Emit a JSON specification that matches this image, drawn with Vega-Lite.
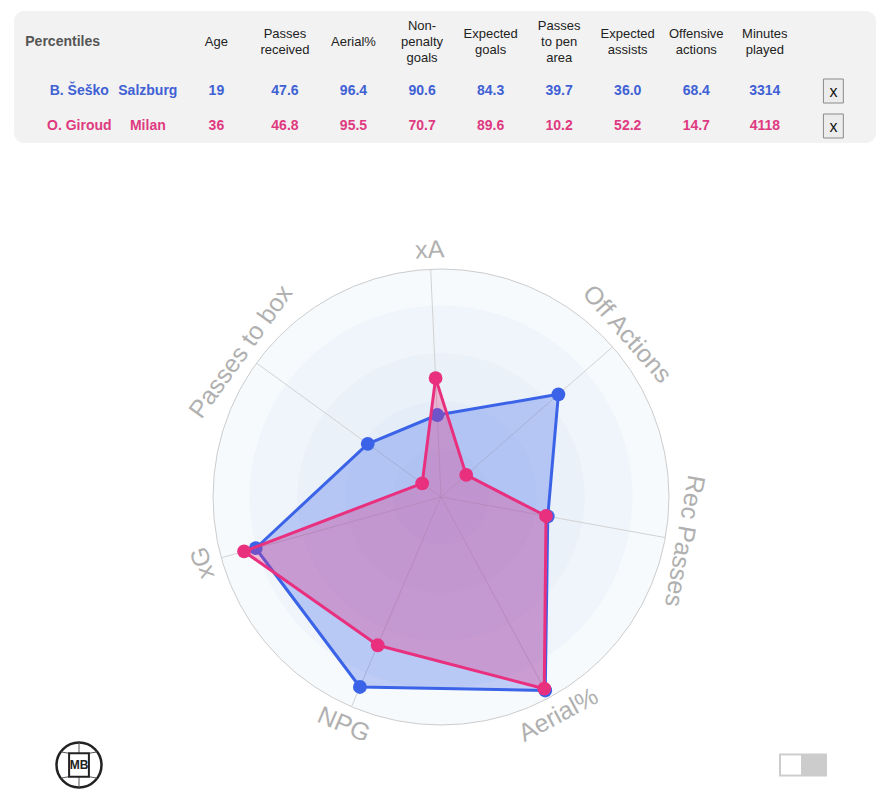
{
  "$schema": "https://vega.github.io/schema/vega-lite/v6.json",
  "background": "white",
  "padding": {"left": 14, "top": 11, "right": 0, "bottom": 0},
  "bounds": "flush",
  "spacing": 126,
  "config": {"view": {"stroke": null}, "font": "Liberation Sans"},
  "datasets": {
    "cells": [
      {"row": "hdr", "col": "name", "text": "Percentiles"},
      {"row": "hdr", "col": "age", "text": "Age"},
      {"row": "hdr", "col": "prec", "text": "Passes\nreceived"},
      {"row": "hdr", "col": "aer", "text": "Aerial%"},
      {"row": "hdr", "col": "npg", "text": "Non-\npenalty\ngoals"},
      {"row": "hdr", "col": "xg", "text": "Expected\ngoals"},
      {"row": "hdr", "col": "ppa", "text": "Passes\nto pen\narea"},
      {"row": "hdr", "col": "xa", "text": "Expected\nassists"},
      {"row": "hdr", "col": "off", "text": "Offensive\nactions"},
      {"row": "hdr", "col": "min", "text": "Minutes\nplayed"},
      {"row": "r1", "col": "name", "text": "B. Šeško"},
      {"row": "r1", "col": "team", "text": "Salzburg"},
      {"row": "r1", "col": "age", "text": "19"},
      {"row": "r1", "col": "prec", "text": "47.6"},
      {"row": "r1", "col": "aer", "text": "96.4"},
      {"row": "r1", "col": "npg", "text": "90.6"},
      {"row": "r1", "col": "xg", "text": "84.3"},
      {"row": "r1", "col": "ppa", "text": "39.7"},
      {"row": "r1", "col": "xa", "text": "36.0"},
      {"row": "r1", "col": "off", "text": "68.4"},
      {"row": "r1", "col": "min", "text": "3314"},
      {"row": "r1", "col": "btn", "text": "x"},
      {"row": "r2", "col": "name", "text": "O. Giroud"},
      {"row": "r2", "col": "team", "text": "Milan"},
      {"row": "r2", "col": "age", "text": "36"},
      {"row": "r2", "col": "prec", "text": "46.8"},
      {"row": "r2", "col": "aer", "text": "95.5"},
      {"row": "r2", "col": "npg", "text": "70.7"},
      {"row": "r2", "col": "xg", "text": "89.6"},
      {"row": "r2", "col": "ppa", "text": "10.2"},
      {"row": "r2", "col": "xa", "text": "52.2"},
      {"row": "r2", "col": "off", "text": "14.7"},
      {"row": "r2", "col": "min", "text": "4118"},
      {"row": "r2", "col": "btn", "text": "x"}
    ],
    "axes": [
      {"axis": "xA", "i": 0},
      {"axis": "Off Actions", "i": 1},
      {"axis": "Rec Passes", "i": 2},
      {"axis": "Aerial%", "i": 3},
      {"axis": "NPG", "i": 4},
      {"axis": "xG", "i": 5},
      {"axis": "Passes to box", "i": 6}
    ],
    "radar": [
      {"player": "B. Šeško", "axis": "xA", "i": 0, "v": 36.0},
      {"player": "B. Šeško", "axis": "Off Actions", "i": 1, "v": 68.4},
      {"player": "B. Šeško", "axis": "Rec Passes", "i": 2, "v": 47.6},
      {"player": "B. Šeško", "axis": "Aerial%", "i": 3, "v": 96.4},
      {"player": "B. Šeško", "axis": "NPG", "i": 4, "v": 90.6},
      {"player": "B. Šeško", "axis": "xG", "i": 5, "v": 84.3},
      {"player": "B. Šeško", "axis": "Passes to box", "i": 6, "v": 39.7},
      {"player": "O. Giroud", "axis": "xA", "i": 0, "v": 52.2},
      {"player": "O. Giroud", "axis": "Off Actions", "i": 1, "v": 14.7},
      {"player": "O. Giroud", "axis": "Rec Passes", "i": 2, "v": 46.8},
      {"player": "O. Giroud", "axis": "Aerial%", "i": 3, "v": 95.5},
      {"player": "O. Giroud", "axis": "NPG", "i": 4, "v": 70.7},
      {"player": "O. Giroud", "axis": "xG", "i": 5, "v": 89.6},
      {"player": "O. Giroud", "axis": "Passes to box", "i": 6, "v": 10.2}
    ],
    "rings": [{"r": 100}, {"r": 84}, {"r": 63}, {"r": 42}, {"r": 21}],
    "one": [{"k": 1}]
  },
  "vconcat": [
    {
      "width": 862,
      "height": 132,
      "view": {"fill": "#f2f2f2", "cornerRadius": 10, "stroke": null},
      "data": {"name": "cells"},
      "encoding": {
        "x": {"field": "col", "type": "nominal", "axis": null,
              "scale": {"type": "point", "domain": ["name", "team", "age", "prec", "aer", "npg", "xg", "ppa", "xa", "off", "min", "btn"], "padding": 0.787, "align": 0.605}},
        "y": {"field": "row", "type": "nominal", "axis": null,
              "scale": {"type": "point", "domain": ["hdr", "r1", "r2"], "padding": 0.886, "align": 0.726}}
      },
      "layer": [
        {
          "transform": [{"filter": "datum.row === 'hdr' && datum.col !== 'name' && split(datum.text, '\\n').length === 1"}],
          "mark": {"type": "text", "fontSize": 13, "color": "#222222", "lineBreak": "\n", "lineHeight": 16, "dy": -14, "baseline": "middle"},
          "encoding": {"text": {"field": "text", "type": "nominal"}}
        },
        {
          "transform": [{"filter": "datum.row === 'hdr' && split(datum.text, '\\n').length === 2"}],
          "mark": {"type": "text", "fontSize": 13, "color": "#222222", "lineBreak": "\n", "lineHeight": 16, "dy": -22, "baseline": "middle"},
          "encoding": {"text": {"field": "text", "type": "nominal"}}
        },
        {
          "transform": [{"filter": "datum.row === 'hdr' && split(datum.text, '\\n').length === 3"}],
          "mark": {"type": "text", "fontSize": 13, "color": "#222222", "lineBreak": "\n", "lineHeight": 16, "dy": -30, "baseline": "middle"},
          "encoding": {"text": {"field": "text", "type": "nominal"}}
        },
        {
          "transform": [{"filter": "datum.row === 'hdr' && datum.col === 'name'"}],
          "mark": {"type": "text", "fontSize": 14, "fontWeight": "bold", "color": "#555555", "align": "left", "dx": -54, "dy": -14, "baseline": "middle"},
          "encoding": {"text": {"field": "text", "type": "nominal"}}
        },
        {
          "transform": [{"filter": "datum.row !== 'hdr' && datum.col !== 'btn'"}],
          "mark": {"type": "text", "fontSize": 14, "fontWeight": "bold", "baseline": "middle"},
          "encoding": {
            "text": {"field": "text", "type": "nominal"},
            "color": {"field": "row", "type": "nominal", "legend": null, "scale": {"domain": ["r1", "r2"], "range": ["#3f61d4", "#df3a80"]}}
          }
        },
        {
          "transform": [{"filter": "datum.col === 'btn'"}],
          "mark": {"type": "point", "shape": "M-0.83,-1H0.83V1H-0.83Z", "size": 576, "filled": true, "fill": "#ececec", "stroke": "#8a8a8a", "strokeWidth": 1, "opacity": 1},
          "encoding": {}
        },
        {
          "transform": [{"filter": "datum.col === 'btn'"}],
          "mark": {"type": "text", "fontSize": 16, "color": "#111111", "dy": 1, "baseline": "middle"},
          "encoding": {"text": {"field": "text", "type": "nominal"}}
        }
      ]
    },
    {
      "bounds": "flush",
      "spacing": 17,
      "vconcat": [
        {
          "width": 854,
          "height": 456,
          "layer": [
            {
              "data": {"name": "rings"},
              "mark": {"type": "point", "shape": "circle", "filled": true, "fill": "#c8e0f0", "fillOpacity": 0.15, "strokeWidth": 0},
              "encoding": {
                "x": {"datum": 0, "type": "quantitative", "axis": null, "scale": {"domain": [-187.28, 187.28], "nice": false, "zero": false}},
                "y": {"datum": 0, "type": "quantitative", "axis": null, "scale": {"domain": [-100, 100], "nice": false, "zero": false}},
                "size": {"field": "r", "type": "quantitative", "legend": null, "scale": {"type": "pow", "exponent": 2, "domain": [0, 100], "range": [0, 207936]}}
              }
            },
            {
              "data": {"name": "rings"},
              "transform": [{"filter": "datum.r === 100"}],
              "mark": {"type": "point", "shape": "circle", "filled": false, "stroke": "#cccccc", "strokeWidth": 1, "opacity": 1},
              "encoding": {
                "x": {"datum": 0, "type": "quantitative"},
                "y": {"datum": 0, "type": "quantitative"},
                "size": {"field": "r", "type": "quantitative", "legend": null}
              }
            },
            {
              "data": {"name": "axes"},
              "transform": [
                {"calculate": "(-2.6 + datum.i * 360 / 7) * PI / 180", "as": "rad"},
                {"calculate": "100 * sin(datum.rad)", "as": "ex"},
                {"calculate": "100 * cos(datum.rad)", "as": "ey"}
              ],
              "mark": {"type": "rule", "color": "#d2d2d2", "strokeWidth": 1},
              "encoding": {
                "x": {"field": "ex", "type": "quantitative"},
                "y": {"field": "ey", "type": "quantitative"},
                "x2": {"datum": 0},
                "y2": {"datum": 0}
              }
            },
            {
              "data": {"name": "radar"},
              "transform": [
                {"filter": "datum.player === 'B. Šeško'"},
                {"calculate": "(-2.6 + datum.i * 360 / 7) * PI / 180", "as": "rad"},
                {"calculate": "datum.v * sin(datum.rad)", "as": "px"},
                {"calculate": "datum.v * cos(datum.rad)", "as": "py"}
              ],
              "layer": [
                {
                  "mark": {"type": "line", "interpolate": "linear-closed", "fill": "#3b63e8", "fillOpacity": 0.3, "stroke": "#3b63e8", "strokeWidth": 3, "strokeJoin": "round"},
                  "encoding": {
                    "x": {"field": "px", "type": "quantitative"},
                    "y": {"field": "py", "type": "quantitative"},
                    "order": {"field": "i", "type": "quantitative"}
                  }
                },
                {
                  "mark": {"type": "point", "filled": true, "size": 190, "opacity": 1, "color": "#3b63e8"},
                  "encoding": {
                    "x": {"field": "px", "type": "quantitative"},
                    "y": {"field": "py", "type": "quantitative"}
                  }
                }
              ]
            },
            {
              "data": {"name": "radar"},
              "transform": [
                {"filter": "datum.player === 'O. Giroud'"},
                {"calculate": "(-2.6 + datum.i * 360 / 7) * PI / 180", "as": "rad"},
                {"calculate": "datum.v * sin(datum.rad)", "as": "px"},
                {"calculate": "datum.v * cos(datum.rad)", "as": "py"}
              ],
              "layer": [
                {
                  "mark": {"type": "line", "interpolate": "linear-closed", "fill": "#e8307f", "fillOpacity": 0.3, "stroke": "#e8307f", "strokeWidth": 3, "strokeJoin": "round"},
                  "encoding": {
                    "x": {"field": "px", "type": "quantitative"},
                    "y": {"field": "py", "type": "quantitative"},
                    "order": {"field": "i", "type": "quantitative"}
                  }
                },
                {
                  "mark": {"type": "point", "filled": true, "size": 190, "opacity": 1, "color": "#e8307f"},
                  "encoding": {
                    "x": {"field": "px", "type": "quantitative"},
                    "y": {"field": "py", "type": "quantitative"}
                  }
                }
              ]
            },
            {
              "data": {"name": "axes"},
              "transform": [
                {"calculate": "-2.6 + datum.i * 360 / 7", "as": "deg"},
                {"calculate": "108.5 * sin(datum.deg * PI / 180)", "as": "lx"},
                {"calculate": "108.5 * cos(datum.deg * PI / 180)", "as": "ly"},
                {"calculate": "datum.deg > 120 && datum.deg < 240 ? datum.deg - 180 : datum.deg", "as": "rot"}
              ],
              "mark": {"type": "text", "fontSize": 25, "color": "#b0b0b0", "align": "center", "baseline": "middle"},
              "encoding": {
                "x": {"field": "lx", "type": "quantitative"},
                "y": {"field": "ly", "type": "quantitative"},
                "angle": {"field": "rot", "type": "quantitative", "scale": null},
                "text": {"field": "axis", "type": "nominal"}
              }
            }
          ]
        },
        {
          "bounds": "flush",
          "spacing": 635,
          "hconcat": [
            {
              "width": 130,
              "height": 46,
              "data": {"name": "one"},
              "layer": [
                {"mark": {"type": "point", "shape": "circle", "size": 2025, "filled": true, "fill": "#ffffff", "stroke": "#222222", "strokeWidth": 2.5, "opacity": 1}, "encoding": {}},
                {"mark": {"type": "point", "shape": "M-0.44,-0.52L-0.8,-0.58M0.44,-0.52L0.8,-0.58M-0.44,0.52L-0.8,0.58M0.44,0.52L0.8,0.58M0,-0.52V-1M0,0.52V1", "size": 2025, "filled": false, "stroke": "#555555", "strokeWidth": 1, "opacity": 1}, "encoding": {}},
                {"mark": {"type": "point", "shape": "M-0.44,-0.52H0.44V0.52H-0.44Z", "size": 2025, "filled": true, "fill": "#ffffff", "stroke": "#222222", "strokeWidth": 2, "opacity": 1}, "encoding": {}},
                {"mark": {"type": "text", "text": "MB", "fontSize": 12, "fontWeight": "bold", "color": "#222222", "baseline": "middle"}, "encoding": {}}
              ]
            },
            {
              "width": 48,
              "height": 46,
              "data": {"name": "one"},
              "layer": [
                {"mark": {"type": "point", "shape": "M-1,-0.48H1V0.48H-1Z", "size": 2304, "filled": true, "fill": "#cccccc", "strokeWidth": 0, "opacity": 1}, "encoding": {}},
                {"mark": {"type": "point", "shape": "M-0.917,-0.4H-0.083V0.4H-0.917Z", "size": 2304, "filled": true, "fill": "#ffffff", "strokeWidth": 0, "opacity": 1}, "encoding": {}}
              ]
            }
          ]
        }
      ]
    }
  ]
}
